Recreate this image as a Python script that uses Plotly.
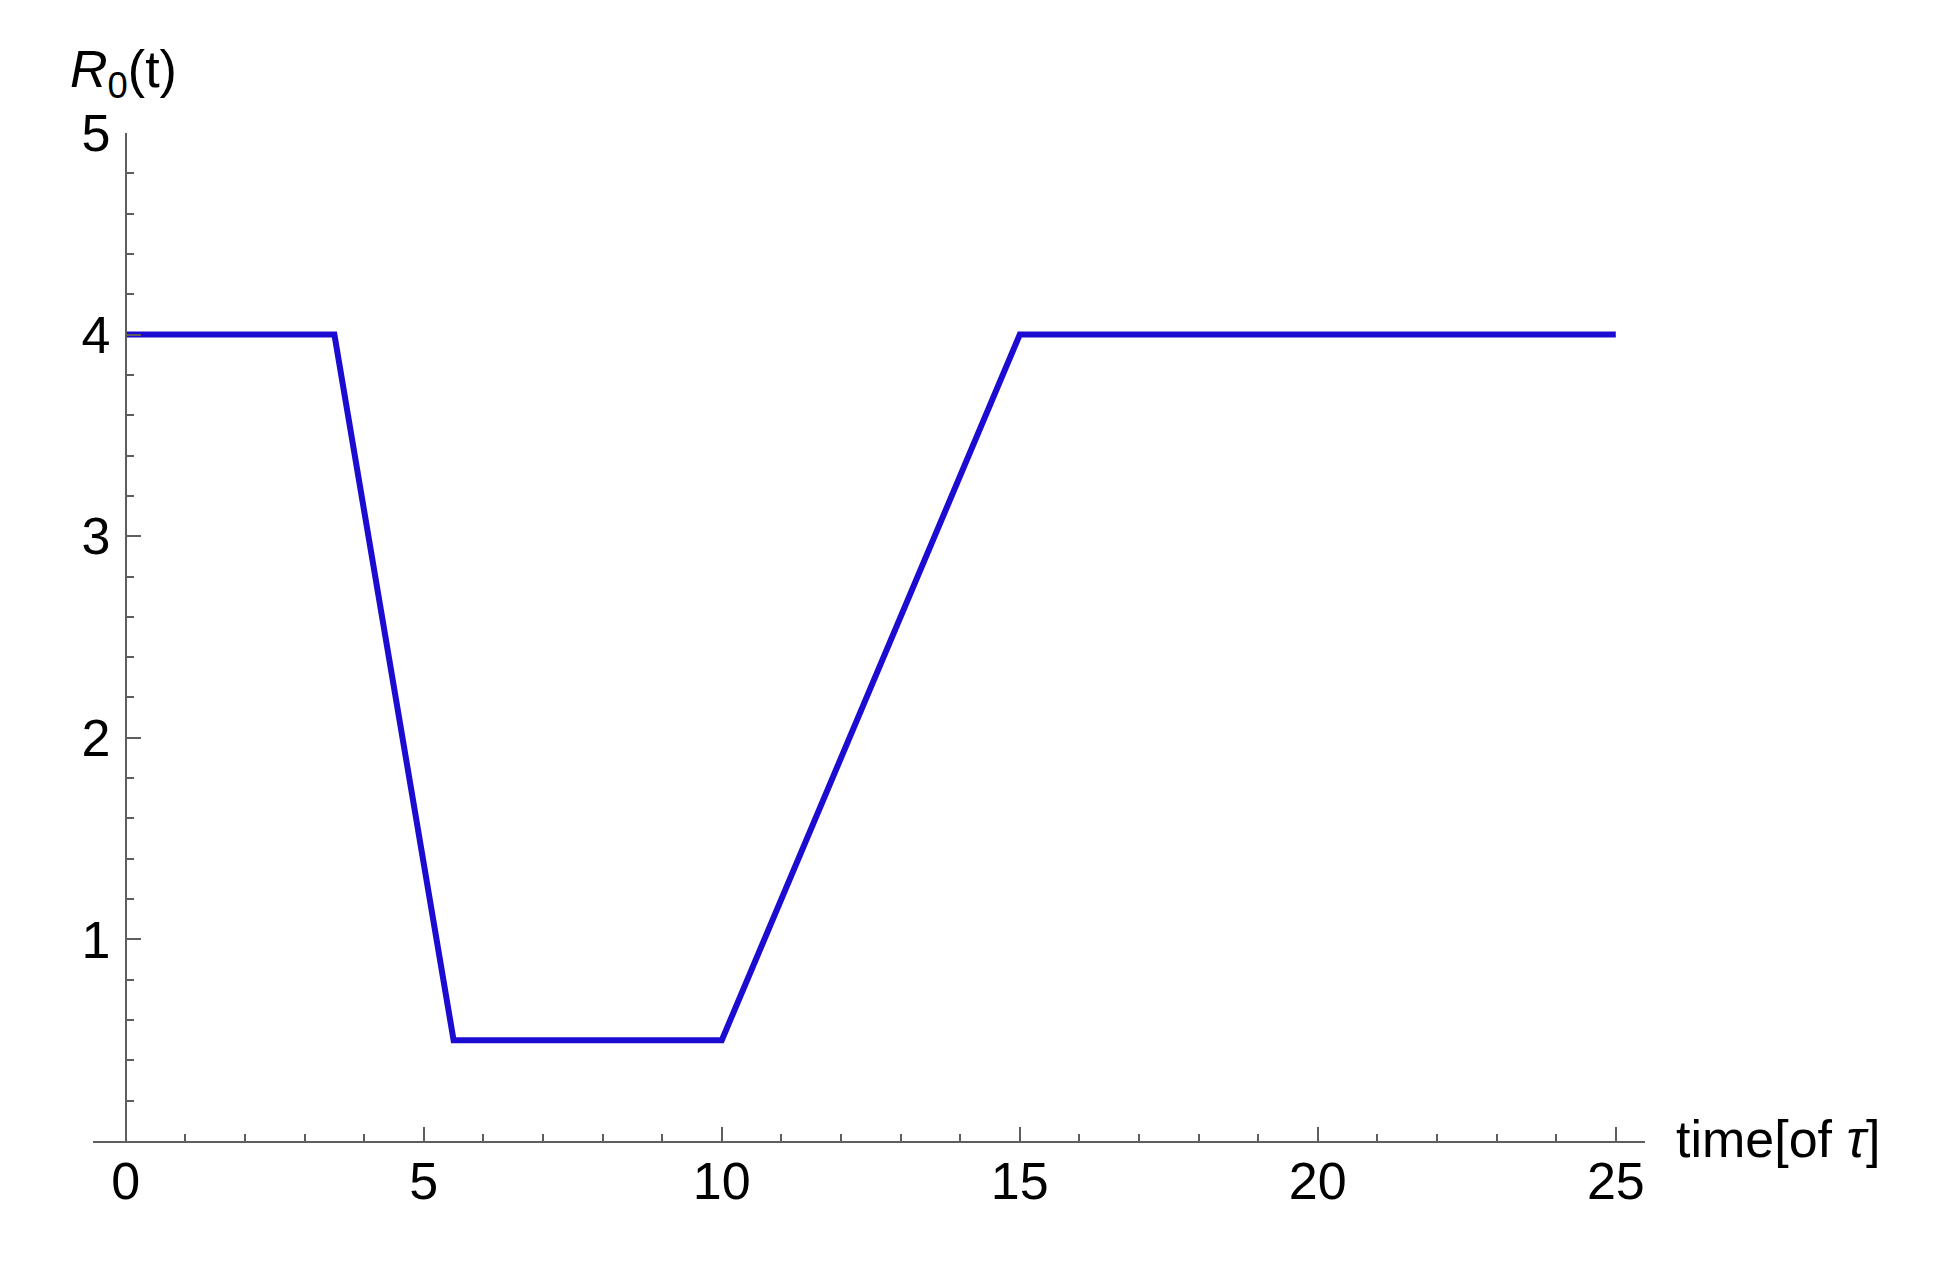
import plotly.graph_objects as go

# Data
t_values = [0, 3.5, 5.5, 10, 15, 25]
r0_values = [4, 4, 0.5, 0.5, 4, 4]
x_ticks = [0, 5, 10, 15, 20, 25]
y_ticks = [1, 2, 3, 4, 5]

W, H = 1935, 1270
# page body has an 8px margin, so offsets are compensated
L, R, T, B = 85, 298, 125, 137
x_min, x_max = -0.55, 25.49
y_pos = (0 - x_min) / (x_max - x_min)

axis_col = "#5e5e5e"
font_fam = "Liberation Sans, Arial, sans-serif"

fig = go.Figure()
fig.add_trace(go.Scatter(
    x=t_values, y=r0_values, mode="lines",
    line=dict(color="#1c0cd2", width=6),
    showlegend=False, hoverinfo="skip", cliponaxis=False,
))

fig.update_layout(
    width=W, height=H,
    margin=dict(l=L, r=R, t=T, b=B, pad=0),
    paper_bgcolor="white", plot_bgcolor="white",
    font=dict(family=font_fam, size=52, color="black"),
    xaxis=dict(
        range=[x_min, x_max], showgrid=False, zeroline=False,
        showline=True, linecolor=axis_col, linewidth=2,
        tickvals=x_ticks, ticks="inside", ticklen=14, tickwidth=2,
        tickcolor=axis_col,
        minor=dict(dtick=1, tick0=0, ticks="inside", ticklen=7,
                   tickwidth=2, tickcolor=axis_col, showgrid=False),
        tickfont=dict(size=52, family=font_fam, color="black"),
        ticklabelstandoff=-6,
    ),
    yaxis=dict(
        range=[0, 5], showgrid=False, zeroline=False,
        anchor="free", position=y_pos,
        showline=True, linecolor=axis_col, linewidth=2,
        tickvals=y_ticks, ticks="inside", ticklen=14, tickwidth=2,
        tickcolor=axis_col,
        minor=dict(dtick=0.2, tick0=0, ticks="inside", ticklen=7,
                   tickwidth=2, tickcolor=axis_col, showgrid=False),
        tickfont=dict(size=52, family=font_fam, color="black"),
        ticklabelstandoff=4,
    ),
    annotations=[
        dict(text="<i>R</i><sub>0</sub>(t)", xref="paper", yref="paper",
             x=y_pos - 0.0375, y=1.025,
             xanchor="left", yanchor="bottom", showarrow=False,
             font=dict(size=52, family=font_fam, color="black")),
        dict(text="time[of <i>τ</i>]", xref="paper", yref="paper",
             x=1.019, y=0.002, xanchor="left", yanchor="middle",
             showarrow=False,
             font=dict(size=52, family=font_fam, color="black")),
    ],
)

fig.write_html("out.html")
